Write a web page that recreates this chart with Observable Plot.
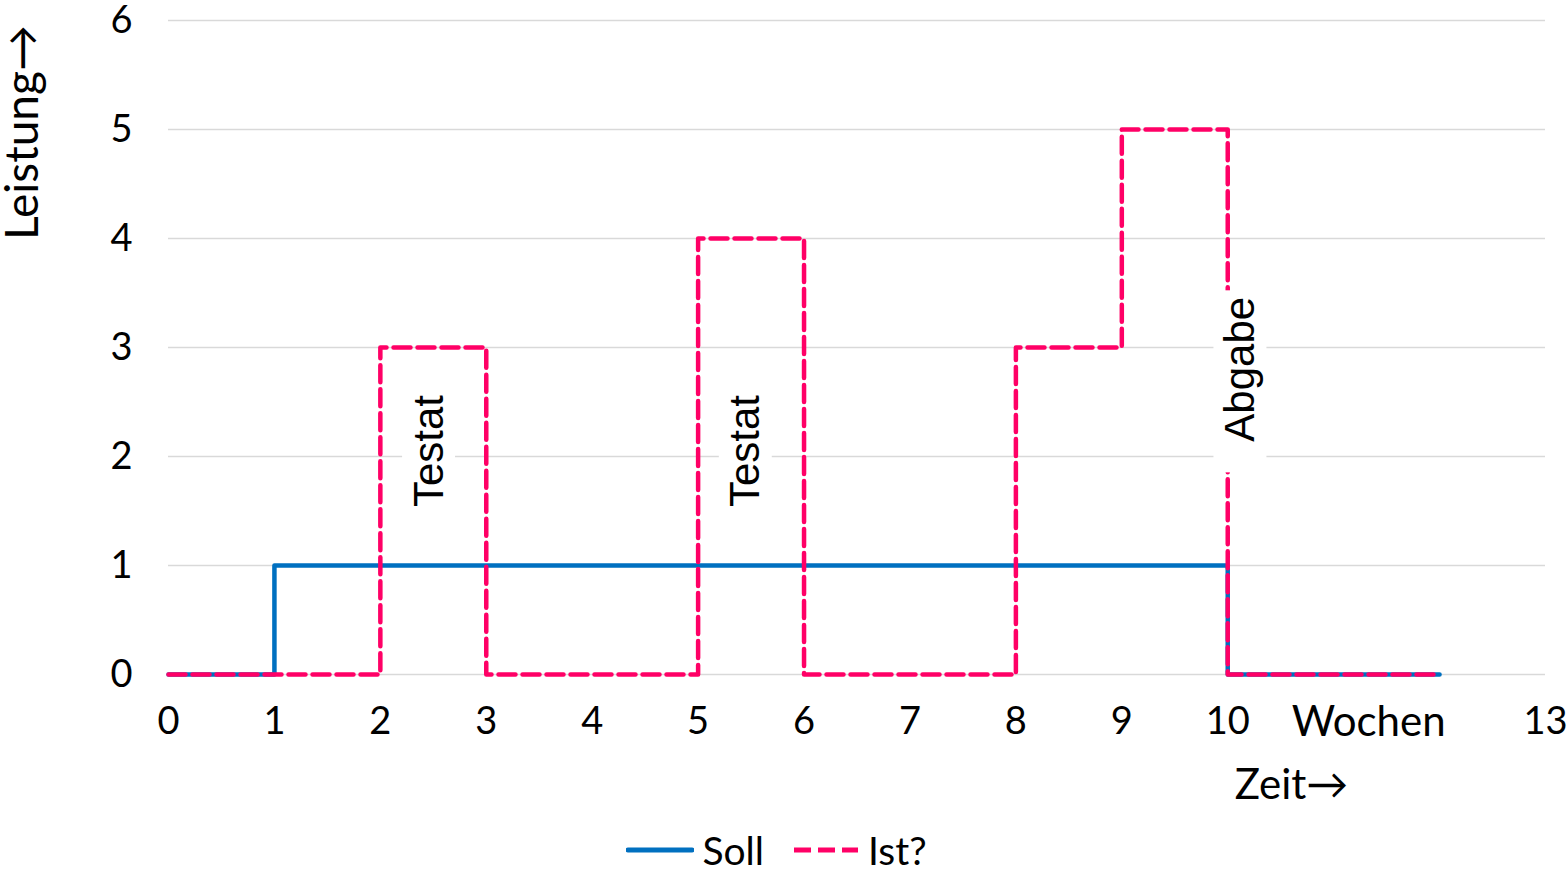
<!DOCTYPE html>
<html><head><meta charset="utf-8">
<script src="https://cdn.jsdelivr.net/npm/d3@7"></script>
<script src="https://cdn.jsdelivr.net/npm/@observablehq/plot@0.6"></script>
<style>
body{margin:0;background:#fff;font-family:Lato, "Open Sans", sans-serif;}
#legend{display:flex;justify-content:center;align-items:center;height:52px;font-size:39px;color:#000;margin-left:-14px;margin-top:4px}
#legend .item{display:flex;align-items:center;margin:0 14px}
#legend svg{margin-right:8px}
</style></head>
<body>
<div id="chart"></div>
<div id="legend"></div>
<script>
const weeks = [0,1,2,3,4,5,6,7,8,9,10,11,12];
const soll  = [0,1,1,1,1,1,1,1,1,1,0,0,0];
const ist   = [0,0,3,0,0,4,0,0,3,5,0,0,0];
const xTicks = [0,1,2,3,4,5,6,7,8,9,10,13];
const yTicks = [0,1,2,3,4,5,6];
const annoText = ["Testat","Testat","Abgabe"];
const annoX = [2.46, 5.45, 10.12];
const annoY = [2.05, 2.05, 2.8];
const seriesNames = ["Soll","Ist?"];
const unitLabel = "Wochen";

const BLUE = "#0070C0", PINK = "#FF0066";
const sollData = weeks.map((w,i)=>({x:w,y:soll[i]}));
const istData = weeks.map((w,i)=>({x:w,y:ist[i]}));
const anno = annoText.map((t,i)=>({t, x:annoX[i], y:annoY[i]}));
const boxHalfW = 0.25;
const boxBelow = [0.6,0.6,0.95];
const boxAbove = [0.6,0.6,0.72];

const plot = Plot.plot({
  width: 1567, height: 820,
  marginLeft: 168, marginRight: 22, marginTop: 20, marginBottom: 146,
  style: {fontFamily: "Lato, 'Open Sans', sans-serif", fontSize: "38px", color: "#000", background: "#fff", overflow: "visible"},
  x: {domain: [0,13], ticks: xTicks, tickFormat: "d", tickSize: 0, tickPadding: 33, label: null},
  y: {domain: [0,6], ticks: yTicks, tickFormat: "d", tickSize: 0, tickPadding: 36, label: null},
  marks: [
    Plot.gridY(yTicks, {stroke: "#d9d9d9", strokeOpacity: 1, strokeWidth: 1.5}),
    Plot.axisX({ticks: xTicks, tickFormat: "d", tickSize: 0, tickPadding: 33, label: null}),
    Plot.axisY({ticks: yTicks, tickFormat: "d", tickSize: 0, tickPadding: 36, label: null}),
    Plot.line(sollData, {x:"x", y:"y", curve:"step-after", stroke: BLUE, strokeWidth: 4.5, strokeLinecap:"round"}),
    Plot.line(istData, {x:"x", y:"y", curve:"step-after", stroke: PINK, strokeWidth: 4.5, strokeDasharray: "17,7"}),
    Plot.rect(anno, {x1: d=>d.x-boxHalfW, x2: d=>d.x+boxHalfW, y1: (d,i)=>d.y-boxBelow[i], y2: (d,i)=>d.y+boxAbove[i], fill: "white"}),
    Plot.text(anno, {x:"x", y:"y", text:"t", rotate:-90, fontSize: 42, fontFamily: "'Liberation Sans', Arial, sans-serif", fill:"#000"}),
    Plot.text([unitLabel], {x: 11, y: 0, text: d=>d, dx: 35, dy: 48, fontSize: 42}),
    Plot.text(["Zeit→"], {frameAnchor: "bottom-right", text: d=>d, dx: -254, dy: 111, fontSize: 42, textAnchor:"middle", lineAnchor:"middle"}),
    Plot.text(["Leistung→"], {frameAnchor: "top-left", text: d=>d, rotate: -90, dx: -163, dy: 112, fontSize: 46, textAnchor:"middle"})
  ]
});
document.getElementById("chart").appendChild(plot);

const legend = document.getElementById("legend");
const styles = [
  {stroke: BLUE, dash: null},
  {stroke: PINK, dash: "17,7"}
];
seriesNames.forEach((n,i)=>{
  const it = document.createElement("div"); it.className="item";
  const s = styles[i];
  it.innerHTML = `<svg width="68" height="12"><line x1="2" x2="66" y1="6" y2="6" stroke="${s.stroke}" stroke-width="5" ${s.dash?`stroke-dasharray="${s.dash}"`:'stroke-linecap="round"'}/></svg><span>${n}</span>`;
  legend.appendChild(it);
});
</script>
</body></html>
